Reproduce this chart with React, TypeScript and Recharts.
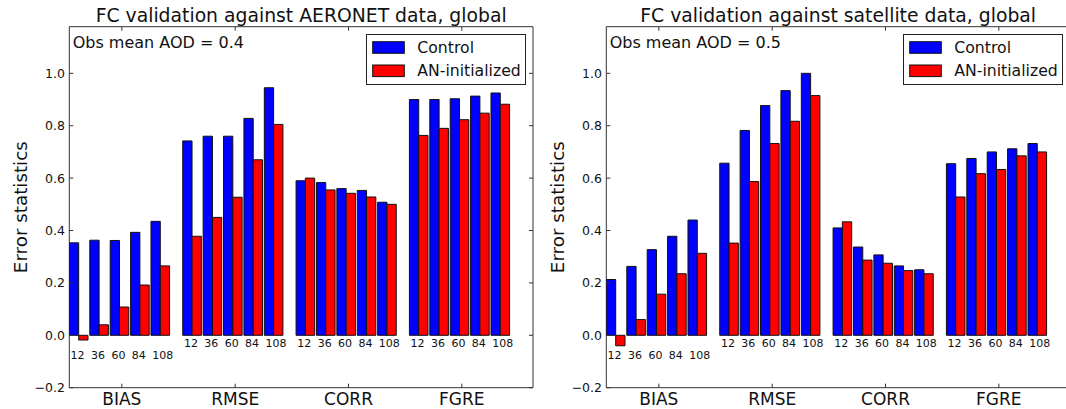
import React from "react";
import { Bar, BarChart, LabelList, Legend, ReferenceArea, XAxis, YAxis } from "recharts";

const metrics = ["BIAS", "RMSE", "CORR", "FGRE"];
const leads = [12, 36, 60, 84, 108];

// values ordered metric by metric, 5 lead times each
const aeronetControl = [
  0.353, 0.363, 0.362, 0.393, 0.435,
  0.742, 0.76, 0.76, 0.828, 0.945,
  0.59, 0.583, 0.56, 0.553, 0.508,
  0.9, 0.9, 0.903, 0.913, 0.925,
];
const aeronetAN = [
  -0.018, 0.04, 0.108, 0.192, 0.265,
  0.378, 0.45, 0.527, 0.67, 0.805,
  0.6, 0.555, 0.542, 0.528, 0.5,
  0.763, 0.79, 0.823, 0.848, 0.882,
];
const satelliteControl = [
  0.213, 0.263, 0.327, 0.378, 0.44,
  0.657, 0.782, 0.877, 0.934, 1.0,
  0.41, 0.337, 0.307, 0.265, 0.25,
  0.655, 0.675, 0.7, 0.712, 0.732,
];
const satelliteAN = [
  -0.04, 0.06, 0.157, 0.235, 0.313,
  0.352, 0.587, 0.732, 0.817, 0.915,
  0.433, 0.287, 0.275, 0.247, 0.235,
  0.528, 0.617, 0.633, 0.685, 0.7,
];
const yTicks = [-0.2, 0, 0.2, 0.4, 0.6, 0.8, 1.0];

const FONT = "'DejaVu Sans', sans-serif";
const W = 560;
const H = 409;
const PLOT_LEFT = 69.3;
const PLOT_TOP = 26.7;
const PLOT_RIGHT = 533;
const PLOT_BOTTOM = 387.7;
const GROUP_PITCH = 5.557;
const X_MIN = -0.456;
const X_MAX = 22.28;
const Y_MIN = -0.2;
const Y_MAX = 1.178;

const metricTicks = metrics.map((_, g) => g * GROUP_PITCH + 2.12);

function buildRows(control: number[], an: number[]) {
  return metrics.flatMap((metric, g) =>
    leads.map((lead, i) => ({
      x: g * GROUP_PITCH + i,
      metric,
      lead,
      control: control[g * leads.length + i],
      an: an[g * leads.length + i],
    }))
  );
}

const fmtY = (v: number) => (v < 0 ? "\u2212" : "") + Math.abs(v).toFixed(1);

function YTick(props: any) {
  const { x, y, payload } = props;
  return (
    <g>
      <line x1={PLOT_LEFT} x2={PLOT_LEFT + 4} y1={y} y2={y} stroke="#333" />
      <line x1={PLOT_RIGHT} x2={PLOT_RIGHT - 4} y1={y} y2={y} stroke="#333" />
      <text x={x} y={y} dy="0.355em" textAnchor="end" fontSize={12.5} fontFamily={FONT} fill="#111">
        {fmtY(payload.value)}
      </text>
    </g>
  );
}

function XTick(props: any) {
  const { x, y, payload } = props;
  const idx = metricTicks.findIndex((t) => Math.abs(t - payload.value) < 1e-6);
  return (
    <g>
      <line x1={x} x2={x} y1={PLOT_BOTTOM} y2={PLOT_BOTTOM - 4} stroke="#333" />
      <line x1={x} x2={x} y1={PLOT_TOP} y2={PLOT_TOP + 4} stroke="#333" />
      <text x={x} y={y} dy="0.71em" textAnchor="middle" fontSize={17} fontFamily={FONT} fill="#111">
        {metrics[idx]}
      </text>
    </g>
  );
}

function LeadLabel(props: any) {
  const vb = props.viewBox || props;
  const zero = vb.y + vb.height;
  const group = Math.floor((props.index ?? 0) / leads.length);
  const drop = group === 0 ? 24 : 11.6;
  return (
    <text x={vb.x + 1.2} y={zero + drop} fontSize={11} fontFamily={FONT} fill="#111">
      {props.value}
    </text>
  );
}

function LegendBox() {
  const items = [
    { label: "Control", color: "#0000ff" },
    { label: "AN-initialized", color: "#ff0000" },
  ];
  return (
    <svg width={160} height={51} style={{ display: "block" }}>
      <rect x={0.5} y={0.5} width={159} height={50} fill="#fff" stroke="#222" />
      {items.map((it, i) => (
        <g key={it.label}>
          <rect x={6.7} y={7.7 + i * 23.3} width={31.6} height={11.6} fill={it.color} stroke="#111" />
          <text x={51.3} y={13.5 + i * 23.3} dy="0.355em" fontSize={15.7} fontFamily={FONT} fill="#111">
            {it.label}
          </text>
        </g>
      ))}
    </svg>
  );
}

function Panel({ left, title, obs, control, an }: { left: number; title: string; obs: string; control: number[]; an: number[] }) {
  const rows = buildRows(control, an);
  const cx = (PLOT_LEFT + PLOT_RIGHT) / 2;
  const cy = (PLOT_TOP + PLOT_BOTTOM) / 2;
  return (
    <div style={{ position: "absolute", left, top: 0, width: W, height: H }}>
      <BarChart
        width={W}
        height={H}
        data={rows}
        barGap={0}
        margin={{ left: 0, top: PLOT_TOP, right: W - PLOT_RIGHT, bottom: 0 }}
      >
        <XAxis
          dataKey="x"
          type="number"
          domain={[X_MIN, X_MAX]}
          allowDataOverflow
          ticks={metricTicks}
          interval={0}
          height={H - PLOT_BOTTOM}
          axisLine={false}
          tickLine={false}
          tickSize={0}
          tickMargin={5.6}
          tick={<XTick />}
        />
        <YAxis
          type="number"
          domain={[Y_MIN, Y_MAX]}
          allowDataOverflow
          ticks={yTicks}
          interval={0}
          width={PLOT_LEFT}
          axisLine={false}
          tickLine={false}
          tickSize={0}
          tickMargin={4.3}
          tick={<YTick />}
        />
        <Legend
          layout="vertical"
          align="center"
          verticalAlign="middle"
          content={() => <LegendBox />}
          wrapperStyle={{ left: 366, top: 34, width: 160, height: 51 }}
        />
        <Bar dataKey="control" name="Control" fill="#0000ff" stroke="#111" strokeWidth={1} barSize={9.3} isAnimationActive={false}>
          <LabelList dataKey="lead" content={<LeadLabel />} />
        </Bar>
        <Bar dataKey="an" name="AN-initialized" fill="#ff0000" stroke="#111" strokeWidth={1} barSize={9.3} isAnimationActive={false} />
        <ReferenceArea x1={X_MIN} x2={X_MAX} y1={Y_MIN} y2={Y_MAX} fill="none" stroke="#333" strokeWidth={1} ifOverflow="visible" />
      </BarChart>
      <svg width={W} height={H} style={{ position: "absolute", left: 0, top: 0, pointerEvents: "none" }}>
        <text x={cx} y={22} textAnchor="middle" fontSize={18.8} fontFamily={FONT} fill="#111">
          {title}
        </text>
        <text x={PLOT_LEFT + 3.4} y={48.3} fontSize={16} fontFamily={FONT} fill="#111">
          {obs}
        </text>
        <text
          x={21}
          y={cy}
          dy="0.355em"
          textAnchor="middle"
          transform={`rotate(-90 21 ${cy})`}
          fontSize={18.3}
          fontFamily={FONT}
          fill="#111"
        >
          Error statistics
        </text>
      </svg>
    </div>
  );
}

export default function App() {
  return (
    <div style={{ position: "absolute", left: 0, top: 0, width: 1066, height: 409, overflow: "hidden", background: "#fff" }}>
      <Panel left={0} title="FC validation against AERONET data, global" obs="Obs mean AOD = 0.4" control={aeronetControl} an={aeronetAN} />
      <Panel left={537.4} title="FC validation against satellite data, global" obs="Obs mean AOD = 0.5" control={satelliteControl} an={satelliteAN} />
    </div>
  );
}
